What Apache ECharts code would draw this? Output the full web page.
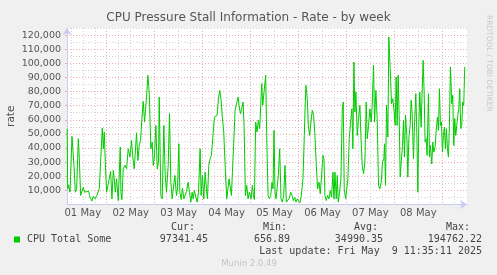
<!DOCTYPE html>
<html>
<head>
<meta charset="utf-8">
<script src="https://cdn.jsdelivr.net/npm/echarts@6/dist/echarts.min.js"></script>
<style>
  html, body { margin: 0; padding: 0; background: #f0f0f0; }
  #chart { width: 497px; height: 275px; }
</style>
</head>
<body>
<div id="chart"></div>
<script>
// hours since 01 May 00:00
var hours = [
  4.2, 4.43, 4.93, 5.6, 6.6, 7.6, 8.27, 8.93, 9.77, 10.27, 10.93, 11.6, 12.27, 12.93, 13.93, 14.93,
  15.6, 16.6, 17.27, 18.1, 18.93, 20.27, 20.93, 21.77, 22.27, 22.77, 23.27, 23.93, 24.77, 25.93, 26.6,
  27.27, 27.77, 28.27, 28.93, 29.77, 30.77, 31.1, 31.6, 32.27, 33.1, 33.93, 34.77, 35.6, 36.43, 36.93,
  37.77, 38.93, 39.6, 40.27, 40.93, 41.6, 42.27, 42.93, 43.93, 44.6, 45.27, 46.1, 46.77, 47.27, 47.93,
  48.6, 49.27, 49.93, 50.27, 51.1, 51.77, 52.6, 53.27, 53.93, 54.77, 55.43, 56.1, 56.77, 57.43, 58.1,
  58.93, 59.43, 60.1, 60.6, 61.27, 61.93, 62.6, 63.27, 63.93, 64.77, 65.43, 66.1, 66.77, 67.27, 67.93,
  68.6, 69.27, 69.93, 70.77, 71.27, 71.93, 72.6, 73.27, 73.93, 74.43, 75.1, 75.77, 76.43, 77.27, 77.93,
  78.6, 79.27, 79.93, 80.6, 81.27, 81.93, 82.6, 83.43, 84.1, 84.77, 85.27, 85.93, 86.43, 86.93, 87.6,
  88.27, 88.93, 89.77, 90.27, 90.93, 91.6, 92.27, 92.77, 93.43, 94.1, 94.77, 95.43, 96.27, 96.93, 97.43,
  97.93, 98.6, 99.27, 99.93, 100.6, 101.1, 101.6, 102.1, 102.77, 103.6, 104.1, 104.77, 105.43, 106.1,
  106.77, 107.27, 107.77, 108.27, 108.77, 109.27, 109.93, 110.6, 111.27, 111.93, 112.6, 113.27, 113.93,
  114.77, 115.43, 116.1, 116.77, 117.43, 118.1, 118.77, 119.43, 120.1, 120.77, 121.43, 122.27, 122.93,
  123.27, 123.77, 124.43, 124.93, 125.6, 126.27, 126.93, 127.6, 128.27, 128.93, 129.6, 130.27, 130.93,
  131.6, 132.27, 132.77, 133.27, 133.93, 134.6, 135.27, 135.93, 136.6, 137.27, 137.77, 138.27, 138.93,
  139.43, 139.93, 140.6, 141.27, 141.93, 142.43, 142.93, 143.6, 144.1, 144.77, 145.43, 146.1, 146.77,
  147.27, 147.77, 148.27, 148.77, 149.43, 150.1, 150.77, 151.27, 151.93, 152.6, 153.27, 153.93, 154.43,
  155.1, 155.77, 156.43, 156.93, 157.6, 158.1, 158.77, 159.43, 160.1, 160.77, 161.43, 162.1, 162.77,
  163.1, 163.6, 164.1, 164.77, 165.27, 165.93, 166.6, 167.27, 167.93, 168.43, 168.93, 169.43, 169.93,
  170.43, 170.93, 171.43, 172.1, 172.6, 173.1, 173.6, 174.27, 174.77, 175.27, 175.93, 176.43, 176.93,
  177.6, 178.1, 178.77, 179.27, 179.77, 180.27, 180.77, 181.43, 181.93, 182.43, 182.93, 183.43, 183.93,
  184.43, 185.1, 185.6, 186.1, 186.77, 187.27, 187.77, 188.43, 188.93, 189.6, 190.1, 190.6, 191.1,
  191.6, 192.1, 192.6, 193.1, 193.6, 194.1, 194.6, 195.1, 195.6, 196.1, 196.77, 197.27, 197.77, 198.27,
  198.77, 199.27, 199.77, 200.27, 200.77, 201.27, 201.77, 202.27, 202.77, 203.27
];
var rate = [
  53700, 11100, 13900, 8700, 48200, 27700, 8700, 11100, 46600, 32400, 6400, 5900, 12300, 8700, 9900, 9500,
  5200, 2400, 5900, 4000, 5900, 11100, 12300, 54100, 39500, 51300, 30000, 8700, 14700, 23400, 4000,
  24100, 18200, 8700, 18200, 2800, 40700, 8700, 3500, 25300, 27700, 25300, 39500, 33600, 45400, 34800,
  25300, 50800, 31200, 41800, 45400, 60800, 73000, 58400, 76100, 91500, 79700, 39500, 44200, 27700, 34800,
  56000, 25300, 30000, 76100, 6400, 4000, 56000, 20600, 8700, 27700, 64300, 15800, 4000, 4500, 20600,
  6400, 11100, 43000, 8700, 3500, 11600, 4000, 2800, 9200, 15800, 8700, 1700, 8700, 4000, 9900,
  5200, 1700, 8300, 39500, 6400, 20600, 4000, 22900, 11100, 4000, 27700, 32400, 34800, 50100, 61900,
  60800, 63100, 74900, 80800, 73800, 60800, 51300, 22900, 4000, 4500, 18200, 19400, 6400, 22900, 44200,
  66700, 67800, 76100, 70200, 64300, 67800, 72600, 56000, 6400, 13500, 4000, 8700, 4000, 13500, 6400,
  3500, 58400, 51300, 59600, 53700, 70200, 85600, 70200, 79700, 91500, 48900, 6400, 4000, 6400,
  15800, 11100, 52500, 8700, 4000, 5200, 20600, 39500, 4000, 1700, 6400, 27700, 1700,
  1700, 4500, 8700, 6400, 2800, 5200, 1700, 4000, 2800, 1200, 6400, 18200, 48900,
  65500, 84400, 74900, 56000, 48900, 58400, 66700, 63100, 48900, 27700, 11100, 15800, 7600,
  8700, 34800, 32400, 6400, 2800, 6400, 4000, 9900, 5200, 22900, 4000, 22900, 4000,
  20600, 1700, 8700, 18200, 66700, 72600, 11100, 4000, 5200, 18200, 46600, 58400, 67800,
  39500, 100900, 65500, 79700, 48900, 60800, 70200, 48900, 27700, 21700, 30000, 72600, 46600,
  56000, 67800, 58400, 70200, 98600, 58400, 80800, 60800, 13500, 11100, 15800, 30000, 32400,
  43000, 13500, 70200, 47800, 118700, 96200, 71400, 74900, 65500, 56000, 90300, 56000, 91500,
  63100, 19400, 19400, 41800, 59600, 33600, 63100, 48900, 19400, 46600, 56000, 73800, 64300,
  32400, 56000, 78500, 51300, 8700, 56000, 79700, 54800, 79700, 102100, 79700, 44200, 46600,
  34800, 78500, 33600, 41800, 28800, 44200, 37100, 40700, 51300, 61900, 52500, 82000, 56000,
  58400, 37100, 48900, 54800, 39500, 53700, 39500, 33600, 56000, 97400, 71400, 77300, 41800, 60800,
  48900, 56000, 63100, 67800, 82000, 53700, 56000, 72600, 70200, 97400
];

var dayLabels = ['01 May', '02 May', '03 May', '04 May', '05 May', '06 May', '07 May', '08 May'];
var labelHours = [12, 36, 60, 84, 108, 132, 156, 180];
var midnightHours = [24, 48, 72, 96, 120, 144, 168, 192];
var quarterHours = [6, 12, 18, 30, 36, 42, 54, 60, 66, 78, 84, 90, 102, 108, 114, 126, 132, 138, 150, 156, 162, 174, 180, 186, 198];
var yTicks = [10000, 20000, 30000, 40000, 50000, 60000, 70000, 80000, 90000, 100000, 110000, 120000];
var yMinor = [5000, 15000, 25000, 35000, 45000, 55000, 65000, 75000, 85000, 95000, 105000, 115000, 125000];

var legendName = 'CPU Total Some';
var stats = { cur: '97341.45', min: '656.89', avg: '34990.35', max: '194762.22' };
var lastUpdate = 'Last update: Fri May  9 11:35:11 2025';

var chart = echarts.init(document.getElementById('chart'));

var axisColor = '#c8ccf2';
var redGrid = { color: '#f2a6a6', width: 1, type: [1, 2] };
var greyGrid = { color: '#d4d4d4', width: 1, type: [1, 2] };
var mono = 'DejaVu Sans Mono';
var txt = '#444';

var seriesData = hours.map(function (h, i) { return [h, rate[i]]; });

chart.setOption({
  backgroundColor: '#f0f0f0',
  animation: false,
  title: {
    text: 'CPU Pressure Stall Information - Rate - by week',
    left: 'center',
    top: 12,
    padding: 0,
    textStyle: { fontFamily: 'DejaVu Sans', fontSize: 12, fontWeight: 'normal', color: '#555' }
  },
  grid: {
    left: 67, right: 30, top: 28, bottom: 70.5,
    containLabel: false, outerBoundsMode: 'none',
    show: true, backgroundColor: '#ffffff', borderWidth: 0
  },
  xAxis: [
    {
      type: 'value', min: 4.1, max: 204.4,
      axisLine: { show: true, lineStyle: { color: axisColor }, symbol: ['none', 'arrow'], symbolSize: [7, 7] },
      axisTick: { show: false, customValues: quarterHours },
      splitLine: { show: true, lineStyle: greyGrid },
      axisLabel: {
        customValues: labelHours, margin: 4,
        fontFamily: 'DejaVu Sans', fontSize: 10, color: '#555',
        formatter: function (v) { return dayLabels[labelHours.indexOf(v)] || ''; }
      }
    },
    {
      type: 'value', min: 4.1, max: 204.4, position: 'bottom',
      axisLine: { show: false }, axisLabel: { show: false },
      axisTick: { show: false, customValues: midnightHours },
      splitLine: { show: true, lineStyle: redGrid }
    }
  ],
  yAxis: [
    {
      type: 'value', min: 0, max: 125000,
      name: 'rate', nameLocation: 'middle', nameGap: 50, nameMoveOverlap: false,
      nameTextStyle: { fontFamily: 'DejaVu Sans', fontSize: 10.5, color: '#555' },
      axisLine: { show: true, lineStyle: { color: axisColor }, symbol: ['none', 'arrow'], symbolSize: [7, 7] },
      axisTick: { show: true, length: 2, customValues: yTicks, lineStyle: { color: '#f2a6a6' } },
      splitLine: { show: true, lineStyle: redGrid },
      axisLabel: {
        customValues: yTicks, margin: 6,
        fontFamily: 'DejaVu Sans', fontSize: 9.5, color: '#555'
      }
    },
    {
      type: 'value', min: 0, max: 125000, position: 'left',
      axisLine: { show: false }, axisLabel: { show: false },
      axisTick: { show: false, customValues: yMinor },
      splitLine: { show: true, lineStyle: greyGrid }
    }
  ],
  series: [{
    type: 'line',
    xAxisIndex: 0,
    yAxisIndex: 0,
    data: seriesData,
    showSymbol: false,
    lineStyle: { color: '#00cc00', width: 1 },
    z: 5
  }],
  graphic: [
    { type: 'text', x: 489, y: 15, rotation: -Math.PI / 2,
      style: { text: 'RRDTOOL / TOBI OETIKER', fontFamily: 'DejaVu Sans', fontSize: 7.5, fill: '#c8c8c8', textVerticalAlign: 'middle' } },
    { type: 'text', x: 195, y: 227, style: { text: 'Cur:', font: '10px ' + mono, fill: txt, textAlign: 'right', textVerticalAlign: 'middle' } },
    { type: 'text', x: 287, y: 227, style: { text: 'Min:', font: '10px ' + mono, fill: txt, textAlign: 'right', textVerticalAlign: 'middle' } },
    { type: 'text', x: 378, y: 227, style: { text: 'Avg:', font: '10px ' + mono, fill: txt, textAlign: 'right', textVerticalAlign: 'middle' } },
    { type: 'text', x: 470, y: 227, style: { text: 'Max:', font: '10px ' + mono, fill: txt, textAlign: 'right', textVerticalAlign: 'middle' } },
    { type: 'rect', shape: { x: 14, y: 236.5, width: 6, height: 6 }, style: { fill: '#00cc00' } },
    { type: 'text', x: 27, y: 239.5, style: { text: legendName, font: '10px ' + mono, fill: txt, textVerticalAlign: 'middle' } },
    { type: 'text', x: 208, y: 239.5, style: { text: stats.cur, font: '10px ' + mono, fill: txt, textAlign: 'right', textVerticalAlign: 'middle' } },
    { type: 'text', x: 290, y: 239.5, style: { text: stats.min, font: '10px ' + mono, fill: txt, textAlign: 'right', textVerticalAlign: 'middle' } },
    { type: 'text', x: 383, y: 239.5, style: { text: stats.avg, font: '10px ' + mono, fill: txt, textAlign: 'right', textVerticalAlign: 'middle' } },
    { type: 'text', x: 482, y: 239.5, style: { text: stats.max, font: '10px ' + mono, fill: txt, textAlign: 'right', textVerticalAlign: 'middle' } },
    { type: 'text', x: 482, y: 251.7, style: { text: lastUpdate, font: '10px ' + mono, fill: txt, textAlign: 'right', textVerticalAlign: 'middle' } },
    { type: 'text', x: 249, y: 263.7, style: { text: 'Munin 2.0.49', font: '8.5px DejaVu Sans', fill: '#c4c4c4', textAlign: 'center', textVerticalAlign: 'middle' } }
  ]
});
</script>
</body>
</html>
